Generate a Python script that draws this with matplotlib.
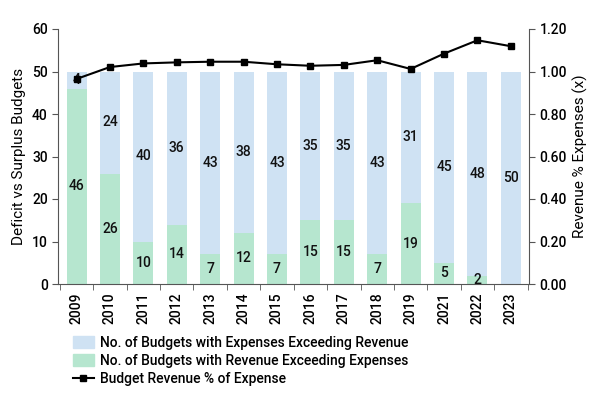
import matplotlib
matplotlib.use("Agg")
import matplotlib.pyplot as plt
from matplotlib.patches import Patch
from matplotlib.lines import Line2D
import numpy as np

years = ["2009", "2010", "2011", "2012", "2013", "2014", "2015", "2016",
         "2017", "2018", "2019", "2021", "2022", "2023"]
revenue_exceeding = [46, 26, 10, 14, 7, 12, 7, 15, 15, 7, 19, 5, 2, 0]
expenses_exceeding = [4, 24, 40, 36, 43, 38, 43, 35, 35, 43, 31, 45, 48, 50]
revenue_pct_expense = [0.965, 1.021, 1.038, 1.043, 1.046, 1.046, 1.034, 1.027,
                       1.031, 1.053, 1.012, 1.084, 1.147, 1.119]

plt.rcParams['font.family'] = ['Roboto', 'DejaVu Sans']
plt.rcParams['font.weight'] = 'medium'
plt.rcParams['font.size'] = 10

BLUE = "#cfe2f3"
GREEN = "#b6e6cf"
GRAY = "#555555"

fig = plt.figure(figsize=(6, 4), dpi=100)
ax = fig.add_axes([0.097, 0.29, 0.785, 0.6375])
x = np.arange(len(years))
w = 0.6
ax.bar(x, revenue_exceeding, width=w, color=GREEN, zorder=2)
ax.bar(x, expenses_exceeding, width=w, bottom=revenue_exceeding, color=BLUE, zorder=2)

for xi, g, b in zip(x, revenue_exceeding, expenses_exceeding):
    if g > 0:
        ax.text(xi, g / 2, str(g), ha='center', va='center', fontsize=10, color='#111111', zorder=3)
    if b > 0:
        ax.text(xi, g + b / 2, str(b), ha='center', va='center', fontsize=10, color='#111111', zorder=3)

ax.set_ylim(0, 60)
ax.set_yticks(range(0, 61, 10))
ax.set_xlim(-0.55, len(years) - 0.45)
ax.set_xticks(x)
ax.set_xticklabels(years, rotation=90)
ax.set_xticks(np.arange(-0.5, len(years) - 0.4, 1), minor=True)
ax.tick_params(axis='x', which='major', length=0, pad=6)
ax.tick_params(axis='x', which='minor', length=4, color=GRAY)
ax.tick_params(axis='y', length=4, color=GRAY)
ax.set_ylabel("Deficit vs Surplus Budgets", fontsize=11)
for s in ['top', 'right']:
    ax.spines[s].set_visible(False)
for s in ['left', 'bottom']:
    ax.spines[s].set_color(GRAY)

ax2 = ax.twinx()
ax2.plot(x, revenue_pct_expense, color='black', lw=1.5, marker='s', markersize=5, zorder=4)
ax2.set_ylim(0, 1.2)
ax2.set_yticks(np.arange(0, 1.21, 0.2))
ax2.set_yticklabels([f"{v:.2f}" for v in np.arange(0, 1.21, 0.2)])
ax2.set_ylabel("Revenue % Expenses (x)", fontsize=11)
ax2.tick_params(axis='y', length=4, color=GRAY)
for s in ['top', 'left', 'bottom']:
    ax2.spines[s].set_visible(False)
ax2.spines['right'].set_color(GRAY)

handles = [Patch(color=BLUE, label="No. of Budgets with Expenses Exceeding Revenue"),
           Patch(color=GREEN, label="No. of Budgets with Revenue Exceeding Expenses"),
           Line2D([0], [0], color='black', lw=1.5, marker='s', markersize=5,
                  label="Budget Revenue % of Expense")]
fig.legend(handles=handles, loc='upper left', bbox_to_anchor=(0.112, 0.175),
           frameon=False, fontsize=10, handlelength=1.5, handleheight=0.9,
           labelspacing=0.32, borderaxespad=0, handletextpad=0.45)

fig.savefig("out.png", dpi=100)
